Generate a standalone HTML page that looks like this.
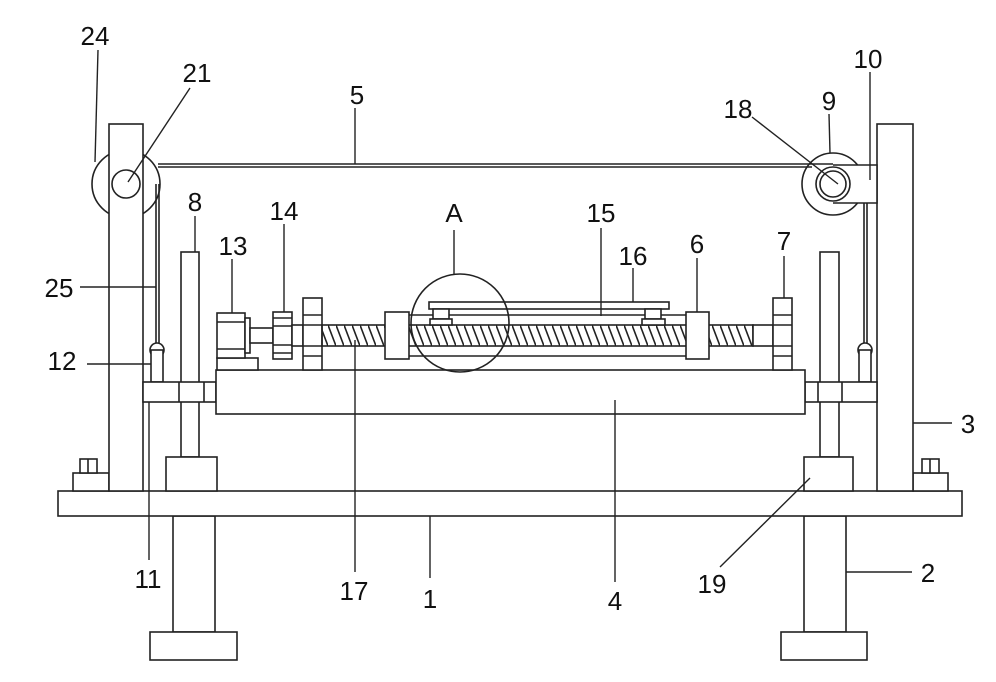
<!DOCTYPE html>
<html><head><meta charset="utf-8"><style>
html,body{margin:0;padding:0;background:#fff}
svg{display:block}
text{font-family:"Liberation Sans",sans-serif;font-size:26px;fill:#111;text-anchor:middle}
</style></head><body>
<svg width="996" height="682" viewBox="0 0 996 682" xmlns="http://www.w3.org/2000/svg">
<defs>
<pattern id="h" patternUnits="userSpaceOnUse" width="8" height="21" patternTransform="translate(0,325)">
<line x1="0" y1="0" x2="8" y2="21" stroke="#222" stroke-width="1.6"/>
</pattern>
</defs>
<rect width="996" height="682" fill="#fff"/>
<g fill="#fff" stroke="#222" stroke-width="1.6">
<!-- base & legs -->
<rect x="173" y="516" width="42" height="116"/>
<rect x="150" y="632" width="87" height="28"/>
<rect x="804" y="516" width="42" height="116"/>
<rect x="781" y="632" width="86" height="28"/>
<rect x="58" y="491" width="904" height="25"/>
<!-- feet of posts -->
<rect x="73" y="473" width="36" height="18"/>
<rect x="80" y="459" width="17" height="14"/><line x1="88" y1="459" x2="88" y2="473"/>
<rect x="913" y="473" width="35" height="18"/>
<rect x="922" y="459" width="17" height="14"/><line x1="930" y1="459" x2="930" y2="473"/>
<!-- left pulley -->
<circle cx="126" cy="184" r="34"/>
<rect x="109" y="124" width="34" height="367"/>
<circle cx="126" cy="184" r="14"/>
<!-- right post and pulley -->
<rect x="877" y="124" width="36" height="367"/>
<circle cx="833" cy="184" r="31"/>
<path d="M833 165 H877 V203 H833" />
<circle cx="833" cy="184" r="17"/>
<circle cx="833" cy="184" r="13"/>
<!-- rope 5 -->
<line x1="158" y1="164" x2="833" y2="164"/>
<line x1="158" y1="167" x2="812" y2="167"/>
<!-- ropes 25 -->
<line x1="156" y1="184" x2="156" y2="345"/><line x1="159" y1="184" x2="159" y2="345"/>
<line x1="864" y1="203" x2="864" y2="345"/><line x1="867" y1="203" x2="867" y2="345"/>
<circle cx="157" cy="350" r="7"/><rect x="151" y="350" width="12" height="32"/>
<circle cx="865" cy="350" r="7"/><rect x="859" y="350" width="12" height="32"/>
<!-- rods 8 and blocks 19 -->
<rect x="181" y="252" width="18" height="205"/>
<rect x="166" y="457" width="51" height="34"/>
<rect x="820" y="252" width="19" height="205"/>
<rect x="804" y="457" width="49" height="34"/>
<!-- collars 11 -->
<rect x="143" y="382" width="73" height="20"/><line x1="179" y1="382" x2="179" y2="402"/><line x1="204" y1="382" x2="204" y2="402"/>
<rect x="805" y="382" width="72" height="20"/><line x1="818" y1="382" x2="818" y2="402"/><line x1="842" y1="382" x2="842" y2="402"/>
<!-- table 4 -->
<rect x="216" y="370" width="589" height="44"/>
<!-- motor 13 -->
<rect x="217" y="358" width="41" height="12"/>
<rect x="217" y="313" width="28" height="45"/>
<line x1="217" y1="322" x2="245" y2="322"/><line x1="217" y1="349" x2="245" y2="349"/>
<rect x="245" y="318" width="5" height="35"/>
<rect x="250" y="328" width="23" height="15"/>
<!-- gear 14 -->
<rect x="273" y="312" width="19" height="47"/>
<line x1="273" y1="318" x2="292" y2="318"/><line x1="273" y1="326" x2="292" y2="326"/><line x1="273" y1="345" x2="292" y2="345"/><line x1="273" y1="353" x2="292" y2="353"/>
<rect x="292" y="325" width="11" height="21"/>
<rect x="303" y="298" width="19" height="72"/>
<line x1="303" y1="315" x2="322" y2="315"/><line x1="303" y1="325" x2="322" y2="325"/><line x1="303" y1="346" x2="322" y2="346"/><line x1="303" y1="356" x2="322" y2="356"/>
<!-- screw 17 -->
<rect x="322" y="325" width="431" height="21" fill="url(#h)"/>
<rect x="753" y="325" width="20" height="21"/>
<line x1="409" y1="315" x2="686" y2="315"/>
<line x1="409" y1="356" x2="686" y2="356"/>
<rect x="385" y="312" width="24" height="47"/>
<rect x="686" y="312" width="23" height="47"/>
<rect x="773" y="298" width="19" height="72"/>
<line x1="773" y1="315" x2="792" y2="315"/><line x1="773" y1="325" x2="792" y2="325"/><line x1="773" y1="346" x2="792" y2="346"/><line x1="773" y1="356" x2="792" y2="356"/>
<!-- plate 16 and sliders -->
<rect x="429" y="302" width="240" height="7"/>
<rect x="433" y="309" width="16" height="10"/><rect x="430" y="319" width="22" height="6"/>
<rect x="645" y="309" width="16" height="10"/><rect x="642" y="319" width="23" height="6"/>
<!-- circle A -->
<circle cx="460" cy="323" r="49" fill="none"/>
</g>
<!-- leaders -->
<g stroke="#222" stroke-width="1.4" fill="none">
<line x1="98" y1="50" x2="95" y2="162"/>
<line x1="190" y1="88" x2="128" y2="182"/>
<line x1="355" y1="108" x2="355" y2="164"/>
<line x1="870" y1="72" x2="870" y2="180"/>
<line x1="829" y1="114" x2="830" y2="153"/>
<line x1="752" y1="117" x2="838" y2="184"/>
<line x1="195" y1="216" x2="195" y2="252"/>
<line x1="284" y1="224" x2="284" y2="312"/>
<line x1="232" y1="259" x2="232" y2="313"/>
<line x1="454" y1="230" x2="454" y2="274"/>
<line x1="601" y1="228" x2="601" y2="316"/>
<line x1="633" y1="268" x2="633" y2="302"/>
<line x1="697" y1="258" x2="697" y2="312"/>
<line x1="784" y1="256" x2="784" y2="298"/>
<line x1="80" y1="287" x2="156" y2="287"/>
<line x1="87" y1="364" x2="151" y2="364"/>
<line x1="913" y1="423" x2="952" y2="423"/>
<line x1="149" y1="402" x2="149" y2="560"/>
<line x1="355" y1="340" x2="355" y2="572"/>
<line x1="430" y1="516" x2="430" y2="578"/>
<line x1="615" y1="400" x2="615" y2="582"/>
<line x1="720" y1="567" x2="810" y2="478"/>
<line x1="846" y1="572" x2="912" y2="572"/>
</g>
<text x="95" y="45">24</text>
<text x="197" y="82">21</text>
<text x="357" y="104">5</text>
<text x="868" y="68">10</text>
<text x="829" y="110">9</text>
<text x="738" y="118">18</text>
<text x="195" y="211">8</text>
<text x="284" y="220">14</text>
<text x="233" y="255">13</text>
<text x="454" y="222">A</text>
<text x="601" y="222">15</text>
<text x="633" y="265">16</text>
<text x="697" y="253">6</text>
<text x="784" y="250">7</text>
<text x="59" y="297">25</text>
<text x="62" y="370">12</text>
<text x="968" y="433">3</text>
<text x="148" y="588">11</text>
<text x="354" y="600">17</text>
<text x="430" y="608">1</text>
<text x="615" y="610">4</text>
<text x="712" y="593">19</text>
<text x="928" y="582">2</text>
</svg>
</body></html>
